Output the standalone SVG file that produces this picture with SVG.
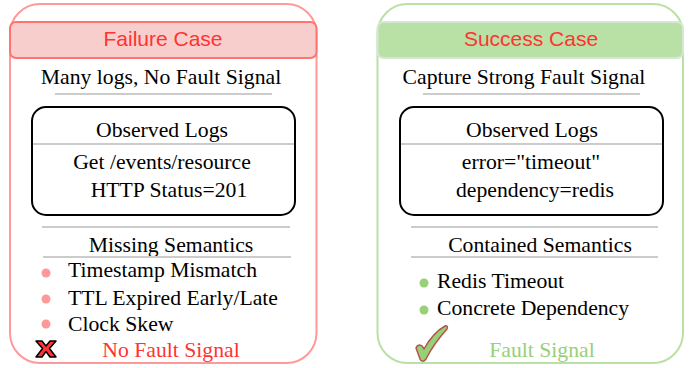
<svg xmlns="http://www.w3.org/2000/svg" width="694" height="368" viewBox="0 0 694 368">
<style>
.serif{font-family:"Liberation Serif","Times New Roman",serif;font-size:21.7px;fill:#000}
.sans{font-family:"Liberation Sans",Arial,sans-serif;font-size:21px;fill:#ff3333}
.gl{stroke:#cccccc;stroke-width:2;fill:none}
.logbox{fill:#fff;stroke:#000;stroke-width:2}
</style>
<rect width="694" height="368" fill="#fff"/>
<g id="failure">
  <rect x="10" y="4" width="306.5" height="359" rx="30" fill="#fff" stroke="#ff9999" stroke-width="2"/>
  <rect x="10" y="22" width="306.5" height="36" rx="6" fill="#f8cecc" stroke="#ff7370" stroke-width="2"/>
  <text class="sans" x="163" y="46" text-anchor="middle">Failure Case</text>
  <text class="serif" x="161" y="84" text-anchor="middle">Many logs, No Fault Signal</text>
  <line class="gl" x1="55" y1="94" x2="272" y2="94"/>
  <g id="failure-logs">
    <rect class="logbox" x="32" y="107" width="263" height="108" rx="14"/>
    <line class="gl" x1="33" y1="144" x2="294" y2="144"/>
    <text class="serif" x="162" y="137" text-anchor="middle">Observed Logs</text>
    <text class="serif" x="162" y="169" text-anchor="middle">Get /events/resource</text>
    <text class="serif" x="169" y="197" text-anchor="middle">HTTP Status=201</text>
  </g>
  <line class="gl" x1="42" y1="227" x2="290" y2="227"/>
  <text class="serif" x="171" y="252" text-anchor="middle">Missing Semantics</text>
  <line class="gl" x1="43" y1="257" x2="291" y2="257"/>
  <g fill="#ff9999">
    <circle cx="46" cy="273" r="4.5"/>
    <circle cx="46" cy="299" r="4.5"/>
    <circle cx="46" cy="324" r="4.5"/>
  </g>
  <text class="serif" x="68" y="277">Timestamp Mismatch</text>
  <text class="serif" x="68" y="305">TTL Expired Early/Late</text>
  <text class="serif" x="68" y="331">Clock Skew</text>
  <path d="M36,341 L42,341 L46,346 L50,341 L56,341 L49.5,348.5 L56,357 L50,357 L46,351.5 L42,357 L36,357 L42.5,348.5 Z" fill="#ff3333" stroke="#000" stroke-width="1.5" stroke-linejoin="round"/>
  <text class="serif" x="171" y="357" text-anchor="middle" style="fill:#ff3333">No Fault Signal</text>
</g>
<g id="success">
  <rect x="377.5" y="4" width="305.5" height="359" rx="30" fill="#fff" stroke="#b9e0a5" stroke-width="2"/>
  <rect x="377.5" y="22" width="305.5" height="36" rx="6" fill="#b9e0a5" stroke="#d5e8d4" stroke-width="2"/>
  <text class="sans" x="531" y="46" text-anchor="middle">Success Case</text>
  <text class="serif" x="524" y="84" text-anchor="middle">Capture Strong Fault Signal</text>
  <line class="gl" x1="423" y1="94" x2="640" y2="94"/>
  <g id="success-logs">
    <rect class="logbox" x="400" y="107" width="263" height="108" rx="14"/>
    <line class="gl" x1="401" y1="144" x2="662" y2="144"/>
    <text class="serif" x="532" y="137" text-anchor="middle">Observed Logs</text>
    <text class="serif" x="531" y="169" text-anchor="middle">error="timeout"</text>
    <text class="serif" x="535" y="197" text-anchor="middle">dependency=redis</text>
  </g>
  <line class="gl" x1="411" y1="227" x2="658" y2="227"/>
  <text class="serif" x="540" y="252" text-anchor="middle">Contained Semantics</text>
  <line class="gl" x1="411" y1="257" x2="658" y2="257"/>
  <g fill="#97d077">
    <circle cx="424" cy="283" r="4.5"/>
    <circle cx="424" cy="310" r="4.5"/>
  </g>
  <text class="serif" x="437" y="288">Redis Timeout</text>
  <text class="serif" x="437" y="315">Concrete Dependency</text>
  <path d="M416,348 C418,344 422,344 424,349 C429,340 436,331 445,326 C447,325 448,327 447,329 C438,339 431,349 426,359 C424,362 421,362 420,359 Z" fill="#97d077" stroke="#b85450" stroke-width="1.5" stroke-linejoin="round"/>
  <text class="serif" x="542" y="357" text-anchor="middle" style="fill:#97d077">Fault Signal</text>
</g>
<g id="connectors"></g>
</svg>
